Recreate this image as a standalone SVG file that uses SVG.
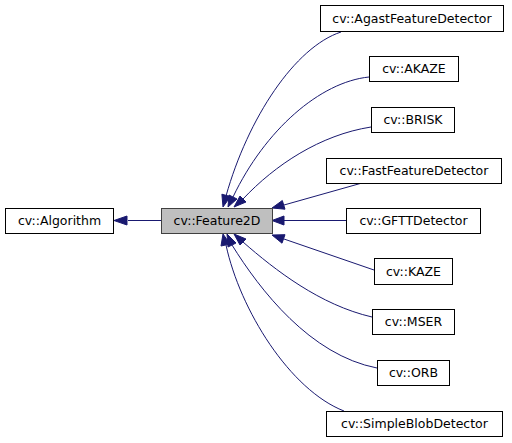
<svg xmlns="http://www.w3.org/2000/svg" width="512" height="443" viewBox="0 0 512 443">
<style>
.n rect{fill:#ffffff;stroke:#000000;stroke-width:1}
.n text{font-family:"DejaVu Sans",sans-serif;font-size:12.5px;text-anchor:middle;fill:#000}
#feature2d rect{fill:#bfbfbf;stroke:#404040}
.e path{fill:none;stroke:#191970;stroke-width:1}
.e polygon{fill:#191970;stroke:#191970;stroke-width:1}
</style>
<rect width="512" height="443" fill="#ffffff"/>
<g id="edges" class="e">
<path d="M161,220.5 L128,220.5"/>
<polygon points="127,216 114,220.5 127,225"/>
<path d="M341,32 C295,47 248,118 226,196"/>
<polygon points="230.5,196.6 223,207 221.9,194.2"/>
<path d="M369,77 C320,82 265,130 233,197"/>
<polygon points="237,199 228,207 229,195"/>
<path d="M371,127 C320,135 275,165 243,199"/>
<polygon points="246,202 234,207 240,196"/>
<path d="M362,183 L284,205"/>
<polygon points="285,209.2 272,208 282.3,200.5"/>
<path d="M346,220.5 L284,220.5"/>
<polygon points="284,225 272,220.5 284,216"/>
<path d="M374,270 L284,239"/>
<polygon points="282,243.2 272,235 285,234.7"/>
<path d="M372,317 C320,305 275,270 243,242"/>
<polygon points="240,245 234,234 246,239"/>
<path d="M377,368 C310,355 260,290 232,245"/>
<polygon points="228,247 227,234 236,243"/>
<path d="M344,411 C290,390 240,310 226,245"/>
<polygon points="221,246 223,234 230,244"/>
</g>
<g id="algorithm" class="n"><rect x="5.5" y="208.5" width="108" height="25"/><text x="59.5" y="225">cv::Algorithm</text></g>
<g id="feature2d" class="n"><rect x="161.5" y="208.5" width="111" height="25"/><text x="217" y="225">cv::Feature2D</text></g>
<g id="agast" class="n"><rect x="320.5" y="5.5" width="183" height="26"/><text x="412" y="22.5">cv::AgastFeatureDetector</text></g>
<g id="akaze" class="n"><rect x="369.5" y="56.5" width="89" height="25"/><text x="414" y="73">cv::AKAZE</text></g>
<g id="brisk" class="n"><rect x="371.5" y="107.5" width="83" height="25"/><text x="413" y="124">cv::BRISK</text></g>
<g id="fast" class="n"><rect x="326.5" y="158.5" width="175" height="25"/><text x="414" y="175">cv::FastFeatureDetector</text></g>
<g id="gftt" class="n"><rect x="346.5" y="208.5" width="134" height="25"/><text x="413.5" y="225">cv::GFTTDetector</text></g>
<g id="kaze" class="n"><rect x="374.5" y="258.5" width="78" height="26"/><text x="413.5" y="275.5">cv::KAZE</text></g>
<g id="mser" class="n"><rect x="372.5" y="309.5" width="82" height="25"/><text x="413.5" y="326">cv::MSER</text></g>
<g id="orb" class="n"><rect x="377.5" y="360.5" width="72" height="25"/><text x="413.5" y="377">cv::ORB</text></g>
<g id="blob" class="n"><rect x="326.5" y="411.5" width="176" height="25"/><text x="414.5" y="428">cv::SimpleBlobDetector</text></g>
</svg>
